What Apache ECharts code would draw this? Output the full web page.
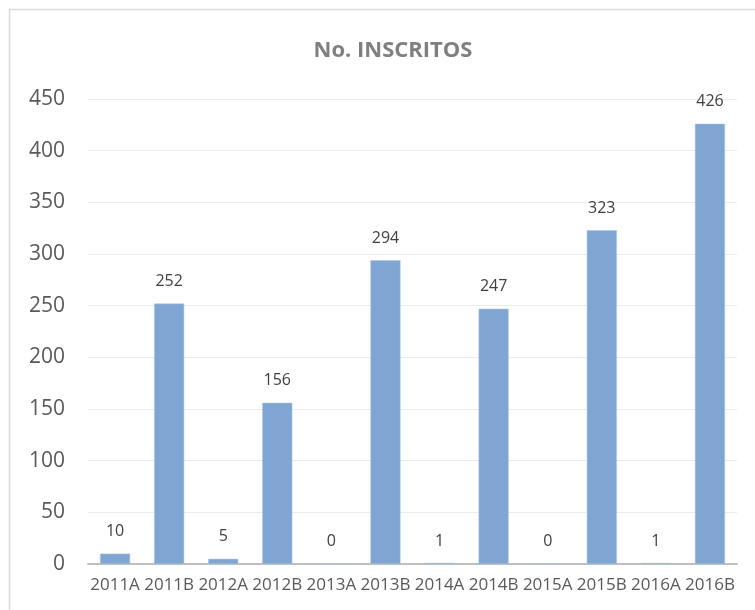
<!DOCTYPE html>
<html>
<head>
<meta charset="utf-8">
<script src="https://cdn.jsdelivr.net/npm/echarts@6/dist/echarts.min.js"></script>
<style>
  html, body { margin: 0; padding: 0; background: #fff; }
  #chart { width: 755px; height: 610px; }
</style>
</head>
<body>
<div id="chart"></div>
<script>
// datos
const periodos = ['2011A', '2011B', '2012A', '2012B', '2013A', '2013B', '2014A', '2014B', '2015A', '2015B', '2016A', '2016B']
const inscritos = [10, 252, 5, 156, 0, 294, 1, 247, 0, 323, 1, 426]

const chart = echarts.init(document.getElementById('chart'))

const option = {
  backgroundColor: '#fff',
  animation: false,
  title: {
    text: 'No. INSCRITOS',
    left: 388,
    top: 35,
    textAlign: 'center',
    textStyle: {
      color: '#7f7f7f',
      fontFamily: 'Open Sans',
      fontWeight: 'bold',
      fontSize: 22
    }
  },
  // marco del gráfico
  graphic: [
    {
      type: 'rect',
      shape: { x: 9.5, y: 9.5, width: 900, height: 800 },
      style: { fill: 'none', stroke: '#d9d9d9', lineWidth: 1.5 },
      silent: true
    }
  ],
  grid: {
    left: 88,
    right: 18,
    top: 99,
    bottom: 46
  },
  xAxis: {
    type: 'category',
    data: periodos,
    axisTick: { show: false },
    axisLine: {
      lineStyle: { color: '#bfbfbf', width: 2 }
    },
    axisLabel: {
      color: '#595959',
      fontFamily: 'Open Sans',
      fontSize: 17,
      margin: 13,
      interval: 0
    }
  },
  yAxis: {
    type: 'value',
    min: 0,
    max: 450,
    interval: 50,
    axisLine: { show: false },
    axisTick: { show: false },
    splitLine: {
      lineStyle: { color: '#ebebeb', width: 1 }
    },
    axisLabel: {
      color: '#595959',
      fontFamily: 'Open Sans',
      fontSize: 21,
      margin: 23
    }
  },
  series: [
    {
      type: 'bar',
      data: inscritos,
      barWidth: 30,
      itemStyle: {
        color: '#7fa5d3',
        borderColor: '#a9c3e4',
        borderWidth: 0.5
      },
      label: {
        show: true,
        position: 'top',
        distance: 14,
        color: '#404040',
        fontFamily: 'Open Sans',
        fontSize: 16
      }
    }
  ]
}

chart.setOption(option)
</script>
</body>
</html>
